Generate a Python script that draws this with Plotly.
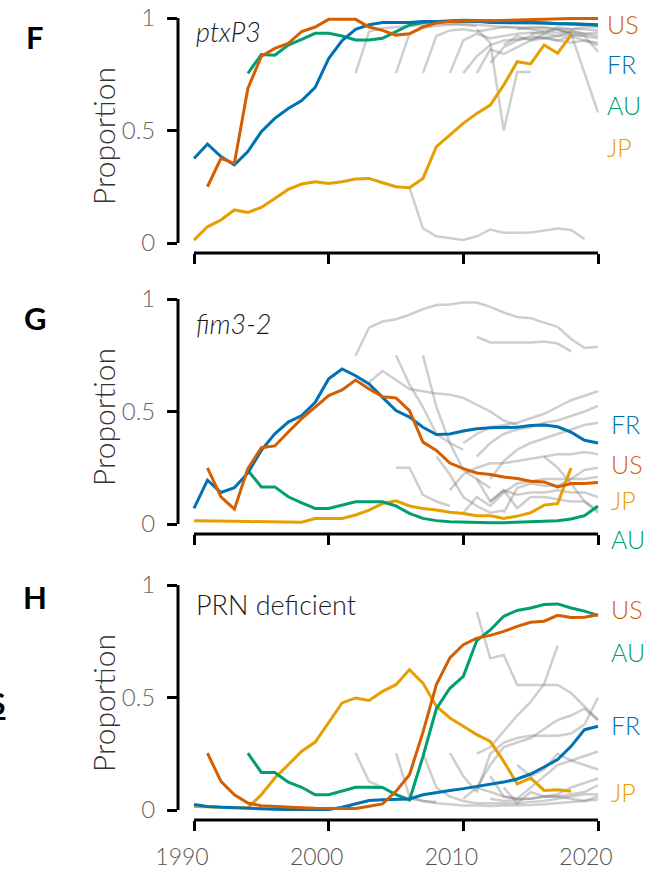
import plotly.graph_objects as go

# ---------------- data ----------------
# Each national series: (first year, yearly proportions)
PTXP3 = {
    "US": (1991, [0.25, 0.376, 0.354, 0.687, 0.83, 0.865, 0.887, 0.94, 0.96, 0.994, 0.994, 0.994, 0.96, 0.945,
                  0.924, 0.93, 0.96, 0.978, 0.985, 0.988, 0.988, 0.988, 0.99, 0.99, 0.992, 0.995, 0.995, 0.998,
                  0.998, 0.998]),
    "FR": (1990, [0.376, 0.44, 0.384, 0.347, 0.406, 0.495, 0.554, 0.598, 0.633, 0.692, 0.82, 0.90, 0.95, 0.97,
                  0.98, 0.98, 0.98, 0.985, 0.985, 0.985, 0.985, 0.985, 0.98, 0.98, 0.98, 0.978, 0.978, 0.975,
                  0.975, 0.972, 0.97]),
    "AU": (1994, [0.754, 0.838, 0.835, 0.88, 0.905, 0.932, 0.932, 0.92, 0.902, 0.902, 0.91, 0.94, 0.969, 0.98,
                  0.985, 0.988, 0.99, 0.99, 0.988, 0.985, 0.982, 0.98, 0.978, 0.976, 0.974, 0.972, 0.968]),
    "JP": (1990, [0.013, 0.072, 0.102, 0.147, 0.136, 0.158, 0.198, 0.238, 0.262, 0.272, 0.265, 0.272, 0.284,
                  0.287, 0.268, 0.25, 0.246, 0.287, 0.428, 0.48, 0.532, 0.576, 0.613, 0.702, 0.806, 0.796, 0.88,
                  0.843, 0.924]),
}
PTXP3_OTHER = [
    (2002, [0.755, 0.94, 0.955, 0.96, 0.965, 0.97, 0.975, 0.975, 0.97, 0.965]),
    (2005, [0.755, 0.93, 0.955, 0.965, 0.97, 0.975, 0.97, 0.965, 0.96, 0.96, 0.955, 0.955, 0.95, 0.95, 0.95, 0.945]),
    (2007, [0.755, 0.92, 0.945, 0.95, 0.94, 0.95, 0.96, 0.955, 0.95, 0.94, 0.935, 0.94, 0.93, 0.92]),
    (2009, [0.755, 0.9, 0.93, 0.91, 0.92, 0.93, 0.935, 0.93, 0.92, 0.925, 0.92, 0.91]),
    (2010, [0.755, 0.83, 0.88, 0.9, 0.905, 0.91, 0.915, 0.9, 0.89, 0.9, 0.89]),
    (2011, [0.755, 0.86, 0.84, 0.87, 0.9, 0.91, 0.9, 0.92, 0.9, 0.88]),
    (2011, [0.95, 0.89, 0.50, 0.76, 0.76]),
    (2006, [0.246, 0.065, 0.03, 0.02, 0.013, 0.03, 0.06, 0.045, 0.045, 0.047, 0.055, 0.064, 0.058, 0.018]),
    (2014, [0.95, 0.96, 0.96, 0.95, 0.93, 0.76, 0.58]),
    (2015, [0.93, 0.94, 0.95, 0.93, 0.92, 0.85]),
    (2012, [0.8, 0.87, 0.9, 0.92, 0.91, 0.92, 0.94, 0.93, 0.935]),
    (2013, [0.88, 0.92, 0.9, 0.93, 0.96, 0.95, 0.96, 0.96]),
]

FIM32 = {
    "US": (1991, [0.249, 0.121, 0.066, 0.246, 0.339, 0.347, 0.409, 0.468, 0.519, 0.571, 0.596, 0.64, 0.60, 0.566,
                  0.56, 0.504, 0.364, 0.327, 0.271, 0.246, 0.227, 0.22, 0.209, 0.202, 0.19, 0.187, 0.165, 0.18,
                  0.18, 0.184]),
    "FR": (1990, [0.069, 0.195, 0.14, 0.161, 0.227, 0.327, 0.401, 0.453, 0.482, 0.541, 0.645, 0.689, 0.659, 0.622,
                  0.563, 0.504, 0.475, 0.43, 0.398, 0.40, 0.413, 0.423, 0.428, 0.43, 0.43, 0.438, 0.44, 0.432,
                  0.408, 0.372, 0.36]),
    "AU": (1994, [0.239, 0.165, 0.165, 0.121, 0.094, 0.069, 0.069, 0.084, 0.099, 0.099, 0.099, 0.08, 0.047, 0.025,
                  0.015, 0.01, 0.008, 0.007, 0.006, 0.006, 0.007, 0.008, 0.012, 0.015, 0.022, 0.037, 0.08]),
    "JP": (1990, [0.015, 0.015, 0.013, 0.012, 0.011, 0.010, 0.010, 0.009, 0.008, 0.024, 0.024, 0.025, 0.04, 0.062,
                  0.091, 0.103, 0.08, 0.069, 0.062, 0.052, 0.047, 0.037, 0.037, 0.025, 0.035, 0.05, 0.084, 0.091,
                  0.249]),
}
FIM32_OTHER = [
    (2002, [0.748, 0.873, 0.90, 0.91, 0.93, 0.955, 0.973, 0.976, 0.984, 0.984, 0.965, 0.94, 0.92, 0.915, 0.895,
            0.876, 0.822, 0.782, 0.788]),
    (2011, [0.832, 0.807, 0.807, 0.807, 0.807, 0.811, 0.802, 0.767]),
    (2003, [0.63, 0.68, 0.64, 0.60, 0.59, 0.58, 0.575, 0.56, 0.53, 0.50, 0.46, 0.44]),
    (2005, [0.75, 0.62, 0.52, 0.40, 0.36, 0.33]),
    (2007, [0.75, 0.52, 0.36, 0.24, 0.2, 0.16]),
    (2005, [0.25, 0.25, 0.13, 0.1, 0.08]),
    (2010, [0.36, 0.40, 0.43, 0.44, 0.45, 0.47, 0.49, 0.52, 0.55, 0.57, 0.59]),
    (2011, [0.3, 0.36, 0.40, 0.42, 0.43, 0.45, 0.46, 0.48, 0.50, 0.525]),
    (2012, [0.2, 0.28, 0.33, 0.36, 0.38, 0.40, 0.42, 0.44, 0.45]),
    (2009, [0.15, 0.22, 0.25, 0.27, 0.27, 0.28, 0.29, 0.30, 0.31, 0.31, 0.32, 0.31]),
    (2010, [0.05, 0.12, 0.08, 0.14, 0.18, 0.19, 0.2, 0.2, 0.2, 0.2, 0.21]),
    (2011, [0.2, 0.1, 0.15, 0.13, 0.14, 0.14, 0.15, 0.14, 0.14, 0.12]),
    (2012, [0.1, 0.15, 0.07, 0.12, 0.12, 0.11, 0.1, 0.1, 0.06]),
    (2013, [0.05, 0.16, 0.18, 0.17, 0.17, 0.2, 0.24, 0.25]),
    (2008, [0.3, 0.22, 0.12, 0.08, 0.05, 0.06]),
    (2016, [0.3, 0.25, 0.18, 0.1, 0.05]),
]

PRN = {
    "US": (1991, [0.253, 0.127, 0.068, 0.031, 0.019, 0.015, 0.012, 0.01, 0.008, 0.007, 0.006, 0.007, 0.017, 0.027,
                  0.083, 0.157, 0.345, 0.557, 0.676, 0.735, 0.764, 0.776, 0.794, 0.816, 0.834, 0.839, 0.865,
                  0.856, 0.857, 0.868]),
    "FR": (1990, [0.024, 0.016, 0.012, 0.009, 0.006, 0.004, 0.003, 0.002, 0.002, 0.002, 0.002, 0.012, 0.027,
                  0.042, 0.046, 0.049, 0.049, 0.068, 0.079, 0.087, 0.095, 0.104, 0.113, 0.124, 0.138, 0.16, 0.191,
                  0.224, 0.283, 0.357, 0.372]),
    "AU": (1994, [0.253, 0.167, 0.167, 0.124, 0.101, 0.068, 0.068, 0.083, 0.101, 0.101, 0.1, 0.068, 0.044, 0.237,
                  0.45, 0.541, 0.594, 0.753, 0.80, 0.861, 0.887, 0.898, 0.913, 0.916, 0.898, 0.884, 0.865]),
    "JP": (1990, [0.016, 0.014, 0.012, 0.01, 0.01, 0.068, 0.142, 0.201, 0.261, 0.302, 0.387, 0.476, 0.498, 0.487,
                  0.527, 0.557, 0.624, 0.564, 0.461, 0.409, 0.372, 0.335, 0.305, 0.216, 0.116, 0.142, 0.087, 0.09,
                  0.083]),
}
PRN_OTHER = [
    (2002, [0.253, 0.127, 0.1, 0.07, 0.05, 0.04, 0.035]),
    (2011, [0.88, 0.674, 0.689, 0.556, 0.556, 0.556, 0.556, 0.52, 0.46, 0.40]),
    (2011, [0.25, 0.28, 0.35, 0.42, 0.48, 0.56, 0.73]),
    (2005, [0.253, 0.06, 0.04, 0.03, 0.025, 0.02, 0.02, 0.018, 0.02, 0.02, 0.022, 0.025, 0.03, 0.035, 0.04, 0.045]),
    (2007, [0.253, 0.1, 0.06, 0.04, 0.03, 0.03, 0.03, 0.03, 0.035, 0.04, 0.05, 0.06, 0.07, 0.07]),
    (2009, [0.253, 0.15, 0.08, 0.25, 0.3, 0.32, 0.33, 0.33, 0.33, 0.34, 0.38, 0.5]),
    (2010, [0.05, 0.1, 0.2, 0.28, 0.3, 0.32, 0.36, 0.4, 0.42, 0.45, 0.4]),
    (2012, [0.15, 0.06, 0.05, 0.1, 0.15, 0.2, 0.22, 0.24, 0.26]),
    (2013, [0.1, 0.03, 0.08, 0.06, 0.07, 0.1, 0.12, 0.14]),
    (2012, [0.05, 0.04, 0.045, 0.05, 0.06, 0.06, 0.07, 0.08, 0.11]),
    (2014, [0.2, 0.15, 0.18, 0.25, 0.22, 0.2, 0.18]),
    (2011, [0.1, 0.08, 0.06, 0.05, 0.05, 0.06, 0.06, 0.05, 0.04, 0.06]),
]

X_TICKS = [1990, 2000, 2010, 2020]
Y_TICKS = [0, 0.5, 1]
Y_TICK_TEXT = ["0", "0.5", "1"]

# ---------------- styling ----------------
COLORS = {"US": "#D55E00", "FR": "#0072B2", "AU": "#009E73", "JP": "#E69F00"}
GREY = "rgba(120,120,120,0.36)"
DRAW_ORDER = ["JP", "AU", "FR", "US"]
FONT = "Lato"

W, H = 646, 874
PX_PER_YEAR = (598 - 194) / 30.0
UNIT = 225.0
ZERO_ROWS = [243, 524, 810]       # pixel row of y = 0 in each panel
AXIS_GAP = 10                      # detached x-axis sits this far below y = 0
YTOP = 1.03

panels = [
    dict(letter="F", gene="<i>ptxP3</i>", series=PTXP3, other=PTXP3_OTHER, letter_row=37, gene_row=32,
         label_x=606, labels={"US": 24, "FR": 64, "AU": 105, "JP": 147}),
    dict(letter="G", gene="<i>fim3-2</i>", series=FIM32, other=FIM32_OTHER, letter_row=318, gene_row=323,
         label_x=610, labels={"FR": 424, "US": 464, "JP": 500, "AU": 539}),
    dict(letter="H", gene="PRN deficient", series=PRN, other=PRN_OTHER, letter_row=597, gene_row=604,
         label_x=610, labels={"US": 609, "AU": 652, "FR": 725, "JP": 792}),
]


def years_for(start, vals):
    return list(range(start, start + len(vals)))


fig = go.Figure()
layout = dict(width=W, height=H, margin=dict(l=0, r=0, t=0, b=0, autoexpand=False),
              paper_bgcolor="white", plot_bgcolor="white", showlegend=False)
shapes, annotations = [], []

x_left = 1990 - (194 - 178) / PX_PER_YEAR
x_right = 2020.25
x_dom = [178 / W, (598 + 0.25 * PX_PER_YEAR) / W]

for i, p in enumerate(panels):
    n = "" if i == 0 else str(i + 1)
    xa, ya = "x" + n, "y" + n
    zero = ZERO_ROWS[i]
    bottom_px = zero + AXIS_GAP
    top_px = zero - UNIT * YTOP
    y_dom = [1 - bottom_px / H, 1 - top_px / H]

    layout["xaxis" + n] = dict(
        domain=x_dom, anchor=ya, range=[x_left, x_right], tickvals=X_TICKS, automargin=False,
        ticks="outside", ticklen=10, tickwidth=2.5, tickcolor="black",
        showline=False, showgrid=False, zeroline=False,
        showticklabels=(i == 2), ticklabelshift=-12, ticklabelstandoff=6,
        tickfont=dict(family=FONT, size=23, color="#555555", weight=300),
    )
    layout["yaxis" + n] = dict(
        domain=y_dom, anchor=xa, range=[-AXIS_GAP / UNIT, YTOP], tickvals=Y_TICKS, ticktext=Y_TICK_TEXT,
        automargin=False, ticks="outside", ticklen=10, tickwidth=2.5, tickcolor="black",
        showline=False, showgrid=False, zeroline=False, ticklabelstandoff=7,
        tickfont=dict(family=FONT, size=24, color="#666666", weight=300),
    )

    # detached axis lines spanning the data extent
    shapes.append(dict(type="line", xref=xa, yref=ya + " domain", x0=1990, x1=2020, y0=0, y1=0,
                       line=dict(color="black", width=3)))
    shapes.append(dict(type="line", xref=xa + " domain", yref=ya, x0=0, x1=0, y0=0, y1=1,
                       line=dict(color="black", width=3)))

    for start, vals in p["other"]:
        fig.add_trace(go.Scatter(x=years_for(start, vals), y=vals, mode="lines", xaxis=xa, yaxis=ya,
                                 line=dict(color=GREY, width=2.5), hoverinfo="skip"))
    for c in DRAW_ORDER:
        start, vals = p["series"][c]
        fig.add_trace(go.Scatter(x=years_for(start, vals), y=vals, mode="lines", xaxis=xa, yaxis=ya, name=c,
                                 line=dict(color=COLORS[c], width=3)))

    annotations.append(dict(text="<b>%s</b>" % p["letter"], xref="paper", yref="paper", x=35 / W,
                            y=1 - p["letter_row"] / H, xanchor="center", yanchor="middle", showarrow=False,
                            font=dict(family=FONT, size=31, color="black", weight=900)))
    annotations.append(dict(text=p["gene"], xref="paper", yref="paper", x=194 / W, y=1 - p["gene_row"] / H,
                            xanchor="left", yanchor="middle", showarrow=False,
                            font=dict(family=FONT, size=27, color="#1a1a1a", weight=300)))
    annotations.append(dict(text="Proportion", xref="paper", yref="paper", x=103 / W,
                            y=1 - (zero - 0.475 * UNIT) / H, xanchor="center", yanchor="middle",
                            textangle=-90, showarrow=False,
                            font=dict(family=FONT, size=30, color="#333333", weight=300)))
    for c, row in p["labels"].items():
        annotations.append(dict(text=c, xref="paper", yref="paper", x=p["label_x"] / W, y=1 - row / H,
                                xanchor="left", yanchor="middle", showarrow=False, borderpad=0,
                                font=dict(family=FONT, size=25, color=COLORS[c], weight=300)))

# clipped heading letter from the neighbouring column
annotations.append(dict(text="<b><u>S</u></b>", xref="paper", yref="paper", x=7 / W, y=1 - 703 / H,
                        xanchor="right", yanchor="middle", showarrow=False,
                        font=dict(family=FONT, size=30, color="black", weight=900)))

layout["shapes"] = shapes
layout["annotations"] = annotations
fig.update_layout(**layout)
fig.write_html("out.html")
